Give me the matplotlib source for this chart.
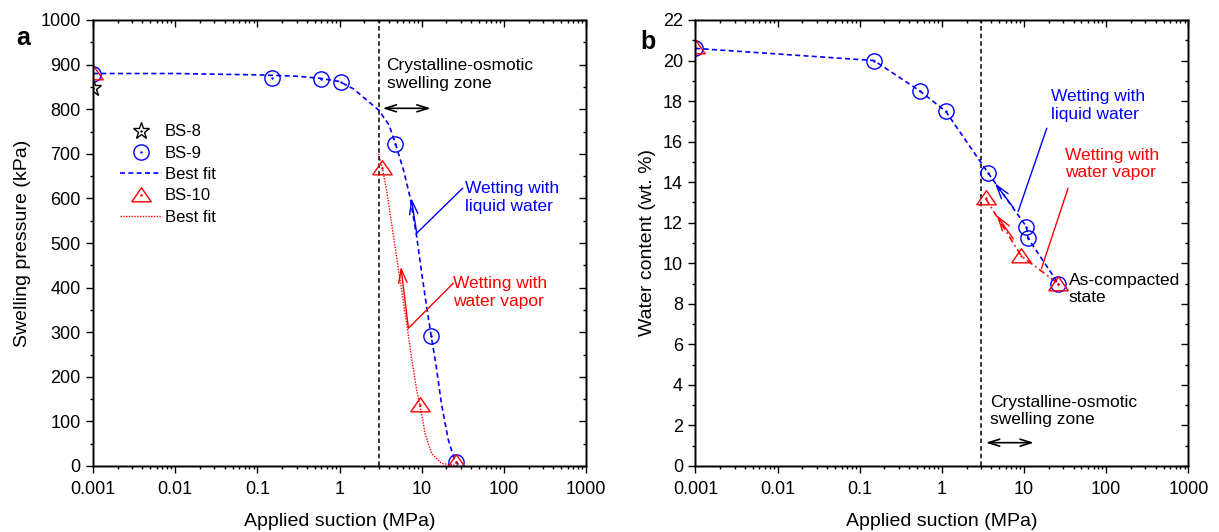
import numpy as np
import matplotlib
matplotlib.use('Agg')
import matplotlib.pyplot as plt
from matplotlib.ticker import LogLocator, MultipleLocator, FixedLocator, NullFormatter

plt.rcParams['font.family'] = ['Liberation Sans', 'DejaVu Sans']

# 横轴刻度
xticks = [0.001, 0.01, 0.1, 1, 10, 100, 1000]
xtick_labels = ['0.001', '0.01', '0.1', '1', '10', '100', '1000']
zone_boundary = 3.0

# (a) 膨胀力
bs8_x = [0.001]
bs8_p = [848]
bs9_x = [0.001, 0.15, 0.59, 1.03, 4.8, 13.1, 26.2]
bs9_p = [880, 870, 868, 862, 723, 292, 10]
bs10_x = [0.001, 3.28, 9.5, 26.2]
bs10_p = [882, 668, 137, 8]

# best fit
fit9_x = [0.001, 0.01, 0.1, 0.3, 0.6, 1.0, 1.5, 2.0, 3.0, 4.0, 4.8, 6.0, 7.2,
          8.7, 10.0, 11.5, 13.0, 15.0, 17.4, 21.0, 25.0, 28.0]
fit9_p = [880, 880, 877, 874, 869, 862, 845, 825, 798, 765, 723, 664, 604,
          514, 433, 357, 294, 225, 140, 60, 15, 3]
fit10_x = [3.0, 3.3, 3.74, 4.3, 4.95, 5.7, 6.56, 7.5, 8.7, 9.5, 11.0, 13.2, 17.4, 24.0, 28.0]
fit10_p = [700, 670, 619, 544, 469, 395, 320, 245, 170, 137, 73, 28, 6, 2, 1]

# (b) 含水率
bs9b_x = [0.001, 0.149, 0.54, 1.11, 3.66, 10.7, 11.2, 26.1]
bs9b_w = [20.6, 20.0, 18.5, 17.5, 14.45, 11.8, 11.23, 9.0]
bs10b_x = [0.001, 3.4, 9.3, 26.0]
bs10b_w = [20.65, 13.2, 10.35, 9.0]

blue = '#0000ff'
red = '#ff0000'
tri = [(-1, -0.65), (1, -0.65), (0, 0.8), (-1, -0.65)]

fig = plt.figure(figsize=(12.19, 5.32), dpi=100)
ax1 = fig.add_axes([93 / 1219, 66 / 532, 493 / 1219, 446 / 532])
ax2 = fig.add_axes([695.4 / 1219, 66 / 532, 493 / 1219, 446 / 532])


def style_axes(ax, ymax, ymajor, yminor):
    ax.set_xscale('log')
    ax.set_xlim(0.001, 1000)
    ax.set_ylim(0, ymax)
    ax.xaxis.set_major_locator(FixedLocator(xticks))
    ax.set_xticklabels(xtick_labels)
    ax.xaxis.set_minor_locator(LogLocator(base=10, subs=np.arange(2, 10), numticks=100))
    ax.xaxis.set_minor_formatter(NullFormatter())
    ax.yaxis.set_major_locator(MultipleLocator(ymajor))
    ax.yaxis.set_minor_locator(MultipleLocator(yminor))
    ax.tick_params(which='major', direction='out', length=5, width=1, labelsize=13, pad=4)
    ax.tick_params(axis='x', which='major', pad=5.5)
    ax.tick_params(which='minor', direction='out', length=2.5, width=1)
    for s in ax.spines.values():
        s.set_linewidth(1)
    # 上、右两侧的内向刻度
    tx = ax.twiny()
    tx.set_xscale('log')
    tx.set_xlim(ax.get_xlim())
    tx.xaxis.set_major_locator(FixedLocator(xticks))
    tx.xaxis.set_minor_locator(LogLocator(base=10, subs=np.arange(2, 10), numticks=100))
    tx.tick_params(which='both', direction='in', labeltop=False, width=1)
    tx.tick_params(which='major', length=5)
    tx.tick_params(which='minor', length=2.5)
    ty = ax.twinx()
    ty.set_ylim(ax.get_ylim())
    ty.yaxis.set_major_locator(MultipleLocator(ymajor))
    ty.yaxis.set_minor_locator(MultipleLocator(yminor))
    ty.tick_params(which='both', direction='in', labelright=False, width=1)
    ty.tick_params(which='major', length=5)
    ty.tick_params(which='minor', length=2.5)
    for t in (tx, ty):
        for s in t.spines.values():
            s.set_linewidth(1)


def dotted_marker(ax, x, y, color, marker, ms, **kw):
    h1, = ax.plot(x, y, ls='none', marker=marker, ms=ms, mfc='none', mec=color, mew=1, **kw)
    h2, = ax.plot(x, y, ls='none', marker='.', ms=1.5, color=color)
    return (h1, h2)


# ---------- (a) ----------
style_axes(ax1, 1000, 100, 50)
ax1.axvline(zone_boundary, color='k', ls=(0, (3, 2)), lw=1.1)
hf9, = ax1.plot(fit9_x, fit9_p, color=blue, ls=(0, (3, 2)), lw=1.2)
hf10, = ax1.plot(fit10_x, fit10_p, color=red, ls=(0, (1, 1)), lw=1.0)
h8 = dotted_marker(ax1, bs8_x, bs8_p, 'k', '*', 12.5)
h9 = dotted_marker(ax1, bs9_x, bs9_p, blue, 'o', 11)
h10 = dotted_marker(ax1, bs10_x, bs10_p, red, tri, 14)

ax1.legend([h8, h9, hf9, h10, hf10], ['BS-8', 'BS-9', 'Best fit', 'BS-10', 'Best fit'],
           loc='upper left', bbox_to_anchor=(0.0548, 0.766), frameon=False, fontsize=12,
           borderpad=0, borderaxespad=0, handlelength=2.5, handletextpad=0.2,
           labelspacing=0.38, numpoints=1)

ax1.text(3.74, 878, 'Crystalline-osmotic\nswelling zone', fontsize=12.5, ha='left', va='center')
ax1.annotate('', xy=(3.34, 802), xytext=(12.9, 802),
             arrowprops=dict(arrowstyle='<->,head_length=0.8,head_width=0.25', color='k', lw=1.2,
                             shrinkA=0, shrinkB=0))

ax1.text(33.6, 602, 'Wetting with\nliquid water', color=blue, fontsize=12.5, ha='left', va='center')
ax1.annotate('', xy=(8.7, 522), xytext=(31.6, 623),
             arrowprops=dict(arrowstyle='-', color=blue, lw=1, shrinkA=0, shrinkB=0))
ax1.annotate('', xy=(7.47, 601), xytext=(8.7, 522),
             arrowprops=dict(arrowstyle='->,head_length=1.0,head_width=0.3', color=blue, lw=1,
                             shrinkA=0, shrinkB=0))

ax1.text(24.3, 389, 'Wetting with\nwater vapor', color=red, fontsize=12.5, ha='left', va='center')
ax1.annotate('', xy=(6.9, 309), xytext=(24.3, 410),
             arrowprops=dict(arrowstyle='-', color=red, lw=1, shrinkA=0, shrinkB=0))
ax1.annotate('', xy=(5.58, 447), xytext=(6.9, 309),
             arrowprops=dict(arrowstyle='->,head_length=1.0,head_width=0.3', color=red, lw=1,
                             shrinkA=0, shrinkB=0))

ax1.set_xlabel('Applied suction (MPa)', fontsize=14, va='center')
ax1.xaxis.set_label_coords(0.5, (466 - 521) / 446)
ax1.set_ylabel('Swelling pressure (kPa)', fontsize=14, va='center')
ax1.yaxis.set_label_coords((23 - 93) / 493, 0.5)

# ---------- (b) ----------
style_axes(ax2, 22, 2, 1)
ax2.axvline(zone_boundary, color='k', ls=(0, (3, 2)), lw=1.1)
ax2.plot(bs9b_x, bs9b_w, color=blue, ls=(0, (3, 2)), lw=1.2)
ax2.plot(bs10b_x[1:], bs10b_w[1:], color=red, ls=(0, (4, 2, 1, 2)), lw=1.2)
dotted_marker(ax2, bs9b_x, bs9b_w, blue, 'o', 11)
dotted_marker(ax2, bs10b_x, bs10b_w, red, tri, 14)

ax2.text(21.1, 17.78, 'Wetting with\nliquid water', color=blue, fontsize=12.5, ha='left', va='center')
ax2.annotate('', xy=(8.47, 12.55), xytext=(18.9, 16.66),
             arrowprops=dict(arrowstyle='-', color=blue, lw=1, shrinkA=0, shrinkB=0))
ax2.annotate('', xy=(4.42, 13.95), xytext=(7.4, 12.75),
             arrowprops=dict(arrowstyle='->,head_length=1.0,head_width=0.3', color=blue, lw=1,
                             shrinkA=0, shrinkB=0))

ax2.text(31.3, 14.9, 'Wetting with\nwater vapor', color=red, fontsize=12.5, ha='left', va='center')
ax2.annotate('', xy=(16.3, 9.75), xytext=(34.3, 13.7),
             arrowprops=dict(arrowstyle='-', color=red, lw=1, shrinkA=0, shrinkB=0))
ax2.annotate('', xy=(4.62, 12.38), xytext=(7.4, 11.2),
             arrowprops=dict(arrowstyle='->,head_length=1.0,head_width=0.3', color=red, lw=1,
                             shrinkA=0, shrinkB=0))

ax2.text(35.1, 8.73, 'As-compacted\nstate', fontsize=12.5, ha='left', va='center')
ax2.text(3.9, 2.72, 'Crystalline-osmotic\nswelling zone', fontsize=12.5, ha='left', va='center')
ax2.annotate('', xy=(3.42, 1.15), xytext=(13.2, 1.15),
             arrowprops=dict(arrowstyle='<->,head_length=0.8,head_width=0.25', color='k', lw=1.2,
                             shrinkA=0, shrinkB=0))

ax2.set_xlabel('Applied suction (MPa)', fontsize=14, va='center')
ax2.xaxis.set_label_coords(0.5, (466 - 521) / 446)
ax2.set_ylabel('Water content (wt. %)', fontsize=14, va='center')
ax2.yaxis.set_label_coords((647 - 695.4) / 493, 0.5)

# 子图编号
fig.text(23.3 / 1219, 1 - 45 / 532, 'a', fontsize=18, fontweight='bold', ha='center', va='baseline')
fig.text(648 / 1219, 1 - 49 / 532, 'b', fontsize=18, fontweight='bold', ha='center', va='baseline')

fig.savefig('out.png', dpi=100)
